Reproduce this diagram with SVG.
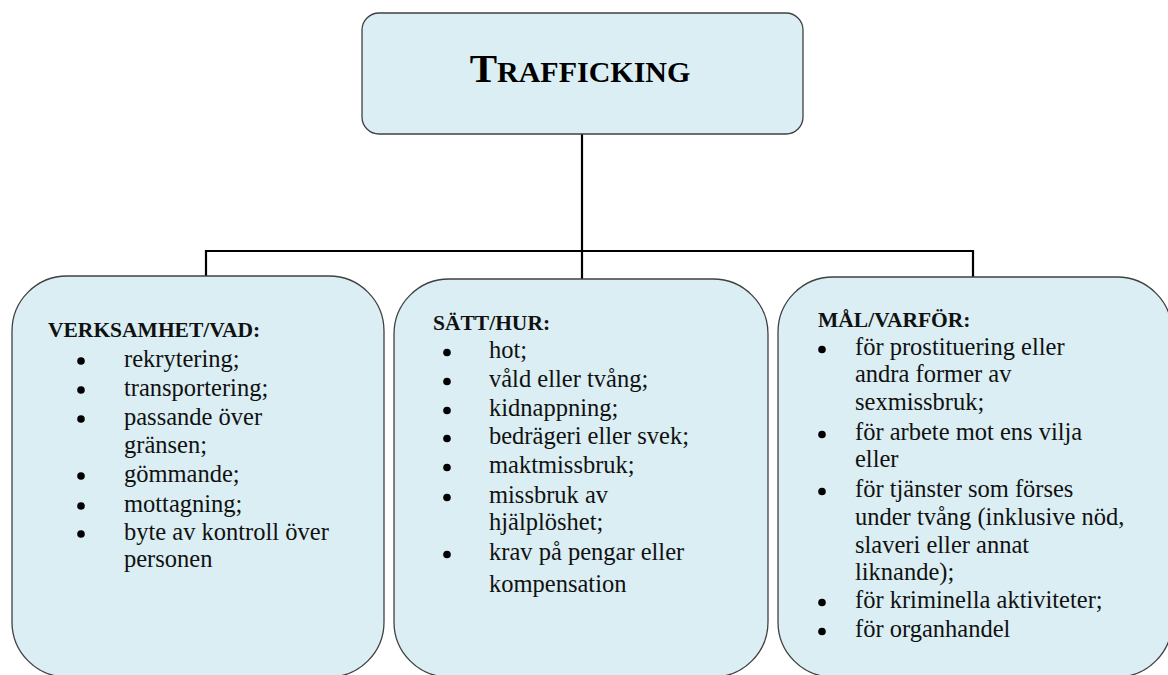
<svg xmlns="http://www.w3.org/2000/svg" width="1168" height="675" viewBox="0 0 1168 675">
<style>
.box{fill:#DAEEF3;stroke:#404040;stroke-width:1.3}
.conn{fill:none;stroke:#000;stroke-width:2.2}
.t{font-family:"Liberation Serif","Times New Roman",serif;font-size:24.5px;fill:#111}
.h{font-family:"Liberation Serif","Times New Roman",serif;font-size:21.5px;font-weight:bold;fill:#111}
.ttl{font-family:"Liberation Serif","Times New Roman",serif;font-weight:bold;fill:#000}
.b{fill:#000}
</style>
<rect width="1168" height="675" fill="#fff"/>
<g id="connectors">
<path class="conn" d="M582 134 V279 M206 276 V251 H973 V277"/>
</g>
<g id="title">
<rect class="box" x="362" y="13" width="441" height="121" rx="17"/>
<text class="ttl" x="580" y="82" text-anchor="middle"><tspan font-size="41">T</tspan><tspan font-size="30">RAFFICKING</tspan></text>
</g>
<g id="verksamhet">
<rect class="box" x="12" y="276" width="372" height="401" rx="55"/>
<text class="h" x="48" y="337">VERKSAMHET/VAD:</text>
<g class="b"><circle cx="81" cy="361" r="3.8"/><circle cx="81" cy="390" r="3.8"/><circle cx="81" cy="419" r="3.8"/><circle cx="81" cy="476" r="3.8"/><circle cx="81" cy="506" r="3.8"/><circle cx="81" cy="534" r="3.8"/></g>
<text class="t" x="124" y="367">rekrytering;</text>
<text class="t" x="124" y="396">transportering;</text>
<text class="t" x="124" y="425">passande över</text>
<text class="t" x="124" y="453">gränsen;</text>
<text class="t" x="124" y="482">gömmande;</text>
<text class="t" x="124" y="512">mottagning;</text>
<text class="t" x="124" y="540">byte av kontroll över</text>
<text class="t" x="124" y="567">personen</text>
</g>
<g id="satt">
<rect class="box" x="394" y="279" width="374" height="398" rx="55"/>
<text class="h" x="433" y="330">SÄTT/HUR:</text>
<g class="b"><circle cx="447" cy="352.5" r="3.8"/><circle cx="447" cy="381.5" r="3.8"/><circle cx="447" cy="410.5" r="3.8"/><circle cx="447" cy="438.5" r="3.8"/><circle cx="447" cy="467.5" r="3.8"/><circle cx="447" cy="497.5" r="3.8"/><circle cx="447" cy="554.5" r="3.8"/></g>
<text class="t" x="489" y="358">hot;</text>
<text class="t" x="489" y="387">våld eller tvång;</text>
<text class="t" x="489" y="416">kidnappning;</text>
<text class="t" x="489" y="444">bedrägeri eller svek;</text>
<text class="t" x="489" y="473">maktmissbruk;</text>
<text class="t" x="489" y="503">missbruk av</text>
<text class="t" x="489" y="530">hjälplöshet;</text>
<text class="t" x="489" y="560">krav på pengar eller</text>
<text class="t" x="489" y="592">kompensation</text>
</g>
<g id="mal">
<rect class="box" x="778" y="277" width="394" height="400" rx="55"/>
<text class="h" x="818" y="327">MÅL/VARFÖR:</text>
<g class="b"><circle cx="822" cy="349.5" r="3.8"/><circle cx="822" cy="434.5" r="3.8"/><circle cx="822" cy="491.5" r="3.8"/><circle cx="822" cy="602.5" r="3.8"/><circle cx="822" cy="631.5" r="3.8"/></g>
<text class="t" x="855" y="355">för prostituering eller</text>
<text class="t" x="855" y="382">andra former av</text>
<text class="t" x="855" y="410">sexmissbruk;</text>
<text class="t" x="855" y="440">för arbete mot ens vilja</text>
<text class="t" x="855" y="467">eller</text>
<text class="t" x="855" y="497">för tjänster som förses</text>
<text class="t" x="855" y="525">under tvång (inklusive nöd,</text>
<text class="t" x="855" y="553">slaveri eller annat</text>
<text class="t" x="855" y="580">liknande);</text>
<text class="t" x="855" y="608">för kriminella aktiviteter;</text>
<text class="t" x="855" y="637">för organhandel</text>
</g>
</svg>
